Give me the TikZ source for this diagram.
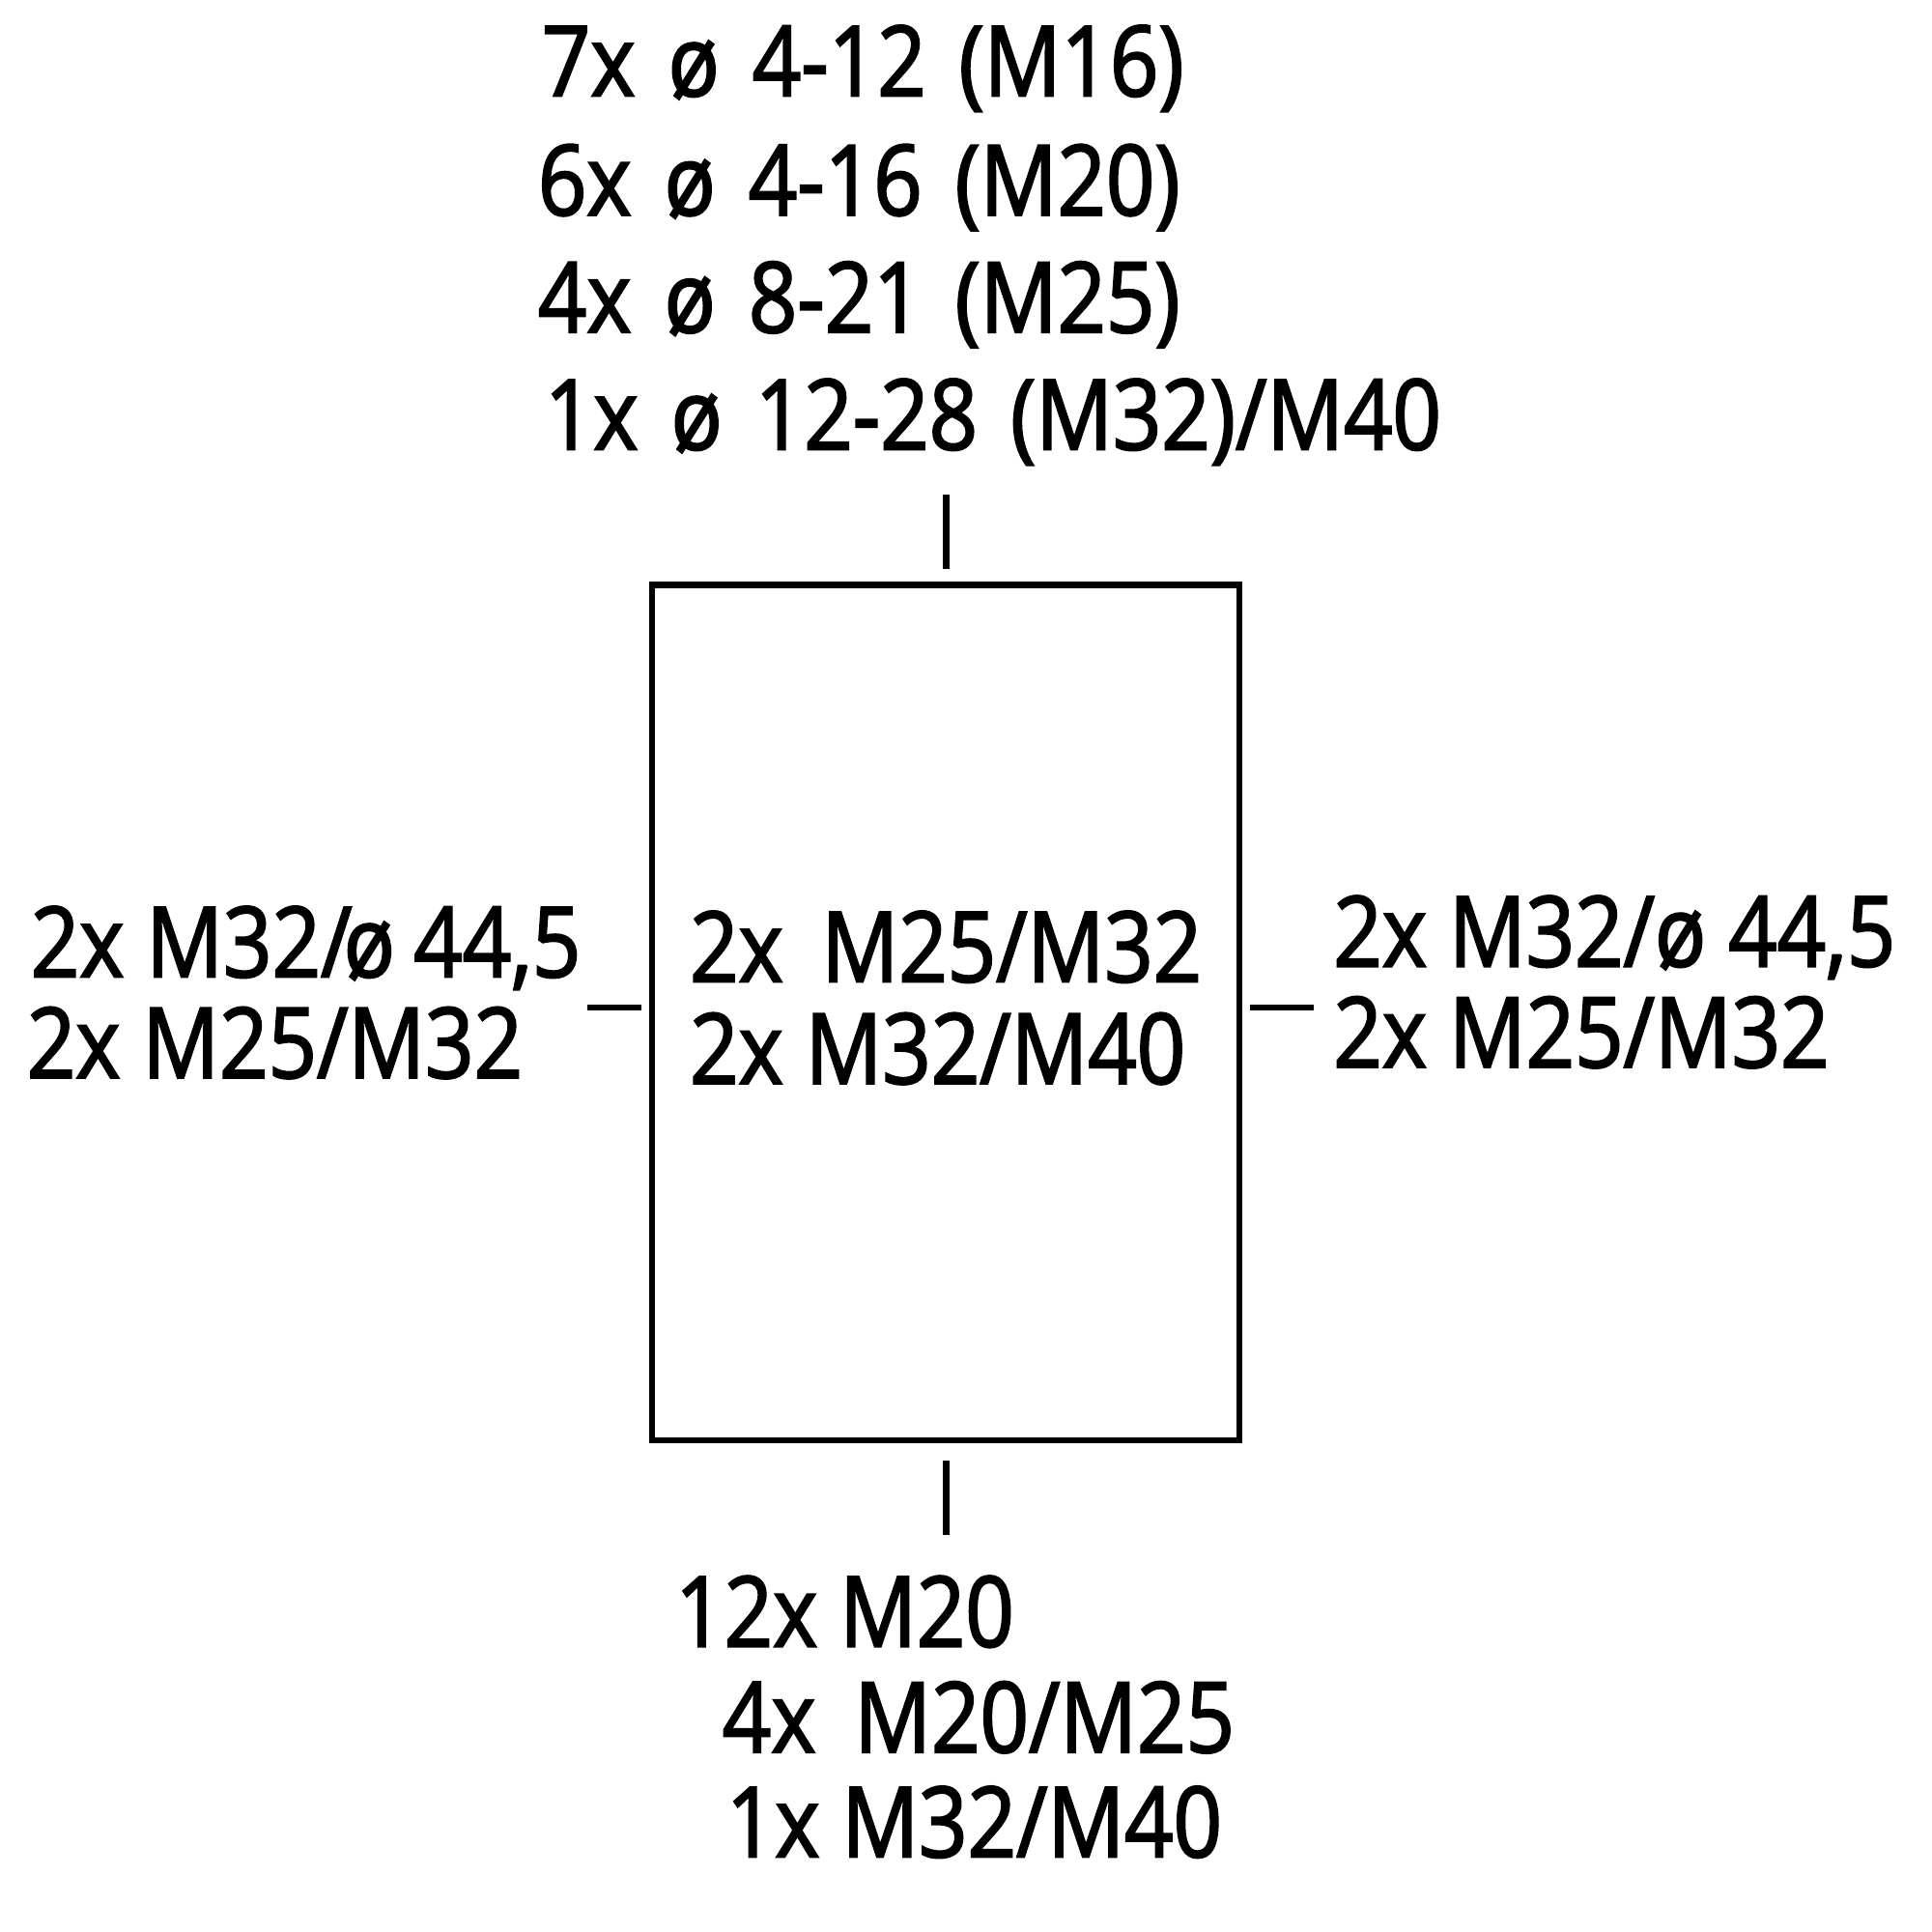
\documentclass[tikz,border=0pt]{standalone}
\usepackage{fontspec}
\setmainfont{Open Sans}[FakeStretch=0.87,FakeBold=2]
\newcommand\lblfont{\fontsize{29pt}{35pt}\selectfont}
\newcommand\toplblfont{\fontsize{29pt}{35pt}\selectfont\setlength{\spaceskip}{0.335em}}
\begin{document}
\begin{tikzpicture}[x=0.01cm,y=-0.01cm,
  lbl/.style={anchor=base west,inner sep=0pt,outer sep=0pt,font=\lblfont},
  toplbl/.style={lbl,font=\toplblfont},
  edge/.style={line width=1.8pt,line cap=butt},
  boxst/.style={draw,line width=1.8pt,inner sep=0pt,minimum width=6.11cm,minimum height=8.9cm}]
\useasboundingbox (0,0) rectangle (2011,2011);
% box
\node[boxst] (box) at (984.5,1054) {};
% ticks
\coordinate (t1) at (985,515); \coordinate (t2) at (985,592);
\coordinate (b1) at (985,1520); \coordinate (b2) at (985,1598);
\coordinate (l1) at (611,1049); \coordinate (l2) at (668,1049);
\coordinate (r1) at (1301,1049); \coordinate (r2) at (1367,1049);
\draw[edge] (t1) -- (t2);
\draw[edge] (b1) -- (b2);
\draw[edge] (l1) -- (l2);
\draw[edge] (r1) -- (r2);
% top
\node[toplbl] (top1) at (564,100) {7x ø 4-12 (M16)};
\node[toplbl] (top2) at (560,224) {6x ø 4-16 (M20)};
\node[toplbl] (top3) at (560,346) {4x ø 8-21 (M25)};
\node[toplbl] (top4) at (567,468) {1x ø 12-28 (M32)/M40};
% left
\node[lbl] (left1) at (32,1017) {2x M32/\kern-2.5pt ø\kern-1pt{} 44,5};
\node[lbl] (left2) at (28,1122) {2x M25/M32};
% center
\node[lbl] (cen1) at (718,1022) {2x\, M25/M32};
\node[lbl] (cen2) at (718,1128) {2x M32/M40};
% right
\node[lbl] (right1) at (1388,1006) {2x M32/ø 44,5};
\node[lbl] (right2) at (1388,1111) {2x M25/M32};
% bottom
\node[lbl] (bot1) at (703,1714) {12x M20};
\node[lbl] (bot2) at (752,1824) {4x\, M20/M25};
\node[lbl] (bot3) at (756,1933) {1x M32/M40};
\end{tikzpicture}
\end{document}
